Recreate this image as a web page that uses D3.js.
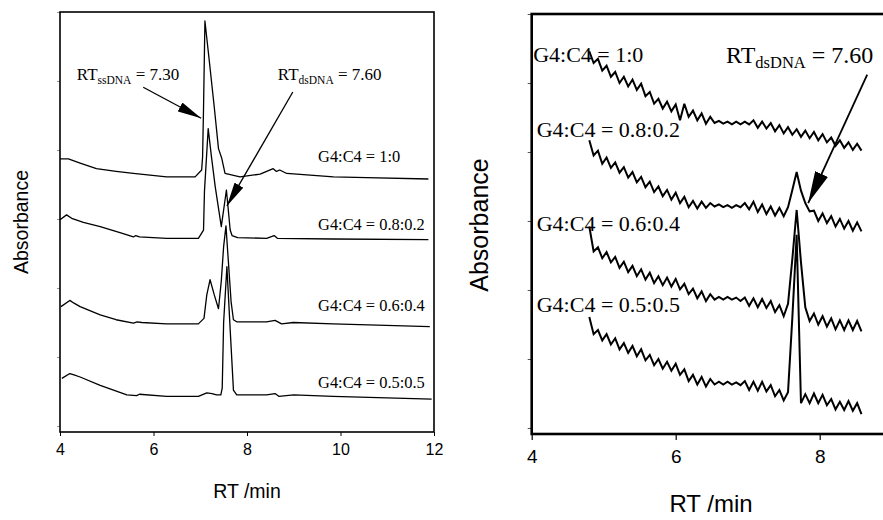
<!DOCTYPE html>
<html><head><meta charset="utf-8">
<script src="https://cdn.jsdelivr.net/npm/d3@7"></script>
<style>body{margin:0;background:#fff} text{white-space:pre}</style>
</head><body>
<svg id="c" width="883" height="520"></svg>
<script>
// ---------- data ----------
const ratioLabels = ["G4:C4 = 1:0", "G4:C4 = 0.8:0.2", "G4:C4 = 0.6:0.4", "G4:C4 = 0.5:0.5"];
const xTicksLeft = [4, 6, 8, 10, 12];
const xTicksRight = [4, 6, 8];
const yTicks = [0, 1, 2, 3, 4, 5, 6];

// left panel chromatograms [RT min, absorbance (offset units)]
const left1 = [[4.00,3.87],[4.18,3.87],[4.43,3.81],[4.78,3.73],[5.20,3.69],[5.57,3.66],[6.28,3.61],[6.89,3.61],[7.03,3.71],[7.05,3.90],[7.07,4.60],[7.10,5.87],[7.20,5.25],[7.30,4.62],[7.39,4.02],[7.46,3.88],[7.53,3.66],[7.85,3.61],[8.28,3.65],[8.56,3.73],[8.63,3.69],[8.70,3.71],[8.85,3.66],[9.85,3.61],[10.56,3.60],[11.88,3.58]];
const left2 = [[4.00,2.99],[4.14,3.06],[4.25,3.01],[4.50,2.95],[4.86,2.89],[5.30,2.80],[5.57,2.74],[5.62,2.76],[5.70,2.74],[6.28,2.72],[6.96,2.72],[7.07,2.84],[7.09,3.40],[7.17,4.31],[7.24,3.90],[7.32,3.47],[7.45,2.89],[7.56,3.42],[7.64,2.84],[7.68,2.76],[7.80,2.73],[8.42,2.72],[8.58,2.76],[8.65,2.72],[9.84,2.71],[11.88,2.70]];
const left3 = [[4.02,1.73],[4.21,1.82],[4.30,1.78],[4.43,1.73],[4.86,1.61],[5.20,1.54],[5.57,1.49],[5.65,1.51],[5.75,1.50],[6.28,1.48],[6.96,1.48],[7.08,1.56],[7.14,1.90],[7.21,2.12],[7.30,1.90],[7.39,1.70],[7.45,2.10],[7.50,2.60],[7.55,2.90],[7.60,2.40],[7.66,1.80],[7.71,1.54],[7.78,1.51],[8.42,1.51],[8.60,1.53],[8.74,1.48],[8.99,1.50],[9.84,1.48],[11.91,1.44]];
const left4 = [[4.04,0.69],[4.21,0.76],[4.30,0.74],[4.43,0.71],[4.86,0.59],[5.43,0.45],[5.64,0.44],[5.70,0.46],[6.28,0.43],[6.96,0.43],[7.14,0.48],[7.25,0.47],[7.35,0.45],[7.44,0.45],[7.47,0.55],[7.50,1.50],[7.57,2.31],[7.64,1.40],[7.71,0.52],[7.78,0.45],[8.42,0.45],[8.60,0.47],[8.68,0.43],[9.00,0.45],[9.84,0.43],[11.95,0.39]];

// right panel (zoom, 4.8 - 8.6 min)
const rightRT = [4.80,4.86,4.92,4.98,5.04,5.10,5.16,5.22,5.28,5.34,5.40,5.46,5.52,5.58,5.64,5.70,5.76,5.82,5.88,5.94,6.00,6.06,6.12,6.18,6.24,6.30,6.36,6.42,6.48,6.54,6.60,6.66,6.72,6.78,6.84,6.90,6.96,7.02,7.08,7.14,7.20,7.26,7.32,7.38,7.44,7.50,7.56,7.62,7.68,7.74,7.80,7.86,7.92,7.98,8.04,8.10,8.16,8.22,8.28,8.34,8.40,8.46,8.52,8.58];
const right1 = [5.46,5.29,5.35,5.18,5.25,5.09,5.16,5.00,5.09,4.95,5.05,4.90,4.99,4.81,4.87,4.70,4.77,4.63,4.73,4.59,4.69,4.46,4.70,4.51,4.60,4.46,4.56,4.41,4.51,4.42,4.45,4.41,4.44,4.40,4.44,4.40,4.44,4.40,4.46,4.35,4.44,4.34,4.42,4.30,4.39,4.27,4.36,4.25,4.33,4.22,4.31,4.20,4.29,4.17,4.26,4.14,4.21,4.09,4.17,4.06,4.14,4.03,4.12,4.02];
const right2 = [4.17,3.95,4.02,3.83,3.92,3.77,3.85,3.70,3.78,3.63,3.71,3.56,3.64,3.49,3.57,3.42,3.50,3.36,3.45,3.31,3.41,3.26,3.35,3.20,3.29,3.18,3.28,3.19,3.26,3.21,3.24,3.20,3.23,3.19,3.23,3.20,3.26,3.17,3.28,3.13,3.24,3.10,3.21,3.08,3.19,3.07,3.20,3.45,3.71,3.44,3.26,3.14,3.15,3.00,3.11,2.97,3.07,2.92,3.03,2.89,3.00,2.86,2.98,2.85];
const right3 = [2.92,2.56,2.62,2.46,2.55,2.40,2.48,2.32,2.41,2.26,2.35,2.20,2.30,2.15,2.25,2.10,2.20,2.07,2.18,2.05,2.16,2.01,2.09,1.94,2.02,1.88,1.98,1.84,1.94,1.86,1.90,1.86,1.90,1.86,1.89,1.84,1.89,1.77,1.88,1.75,1.87,1.74,1.84,1.68,1.78,1.62,1.80,2.45,3.16,2.40,1.75,1.55,1.66,1.50,1.62,1.47,1.59,1.43,1.56,1.42,1.56,1.42,1.55,1.40];
const right4 = [1.61,1.36,1.42,1.27,1.36,1.21,1.30,1.14,1.23,1.09,1.19,1.04,1.14,0.98,1.06,0.91,1.00,0.86,0.96,0.83,0.93,0.77,0.85,0.68,0.77,0.63,0.74,0.60,0.71,0.63,0.67,0.63,0.67,0.63,0.66,0.62,0.68,0.55,0.67,0.54,0.67,0.53,0.62,0.46,0.55,0.40,0.52,1.60,2.80,0.36,0.49,0.36,0.50,0.36,0.48,0.33,0.42,0.27,0.38,0.26,0.39,0.25,0.36,0.20];

// annotation anchors in data units
const leftLabelPos = [[9.52,3.83],[9.52,2.84],[9.52,1.66],[9.52,0.55]];
const rightLabelPos = [[4.02,5.30],[4.07,4.22],[4.07,2.85],[4.07,1.68]];

// ---------- drawing ----------
const svg = d3.select("#c");
const serif = "'Liberation Serif','Times New Roman',serif";
const sans = "'Liberation Sans',Arial,sans-serif";

svg.append("defs").html(
  '<marker id="ahS" viewBox="0 0 24 10" refX="24" refY="5" markerWidth="24" markerHeight="10" markerUnits="userSpaceOnUse" orient="auto"><path d="M0,0 L24,5 L0,10 Z" fill="#000"/></marker>' +
  '<marker id="ahL" viewBox="0 0 32 14" refX="32" refY="7" markerWidth="32" markerHeight="14" markerUnits="userSpaceOnUse" orient="auto"><path d="M0,0 L32,7 L0,14 Z" fill="#000"/></marker>'
);

function rtLabel(g, x, y, sub, val, size, subsize) {
  const t = g.append("text").attr("x", x).attr("y", y)
    .attr("font-family", serif).attr("font-size", size).attr("fill", "#000");
  t.append("tspan").text("RT");
  t.append("tspan").attr("font-size", subsize).attr("dy", size * 0.2).text(sub);
  t.append("tspan").attr("dy", -size * 0.2).text(" = " + val);
}

// ----- left panel -----
const xL = d3.scaleLinear().domain([4, 12]).range([60, 434]);
const yL = d3.scaleLinear().domain([-0.087, 6]).range([432, 12]);
const gL = svg.append("g");

gL.append("g").attr("transform", `translate(0,${yL(-0.087)})`)
  .call(d3.axisBottom(xL).tickValues(xTicksLeft).tickSize(4).tickPadding(8).tickFormat(d3.format("d")))
  .call(g => g.select(".domain").remove())
  .call(g => g.selectAll("line").attr("stroke", "#000").attr("stroke-width", 1))
  .call(g => g.selectAll("text").attr("font-family", sans).attr("font-size", 16).attr("fill", "#000"));
gL.append("g").attr("transform", `translate(${xL(4)},0)`)
  .call(d3.axisLeft(yL).tickValues(yTicks).tickSize(3).tickFormat(""))
  .call(g => g.select(".domain").remove())
  .call(g => g.selectAll("line").attr("stroke", "#777").attr("stroke-width", 0.8));

gL.append("rect").attr("x", xL(4)).attr("y", yL(6)).attr("width", xL(12) - xL(4)).attr("height", yL(-0.087) - yL(6))
  .attr("fill", "none").attr("stroke", "#000").attr("stroke-width", 1.6);

const lineL = d3.line().x(d => xL(d[0])).y(d => yL(d[1]));
[left1, left2, left3, left4].forEach(s => {
  gL.append("path").attr("d", lineL(s)).attr("fill", "none").attr("stroke", "#000").attr("stroke-width", 1.3).attr("stroke-linejoin", "round");
});

ratioLabels.forEach((t, i) => {
  gL.append("text").attr("x", xL(leftLabelPos[i][0])).attr("y", yL(leftLabelPos[i][1]))
    .attr("font-family", serif).attr("font-size", 16.4).attr("fill", "#000").text(t);
});
rtLabel(gL, xL(4.36), yL(5.01), "ssDNA", "7.30", 17, 11.5);
rtLabel(gL, xL(8.66), yL(5.01), "dsDNA", "7.60", 17, 11.5);

gL.append("line").attr("x1", xL(5.78)).attr("y1", yL(4.91)).attr("x2", xL(7.02)).attr("y2", yL(4.46))
  .attr("stroke", "#000").attr("stroke-width", 1.3).attr("marker-end", "url(#ahS)");
gL.append("line").attr("x1", xL(8.98)).attr("y1", yL(4.84)).attr("x2", xL(7.57)).attr("y2", yL(3.19))
  .attr("stroke", "#000").attr("stroke-width", 1.3).attr("marker-end", "url(#ahS)");

gL.append("text").attr("transform", `translate(28,${222}) rotate(-90)`).attr("text-anchor", "middle")
  .attr("font-family", sans).attr("font-size", 19.5).attr("fill", "#000").text("Absorbance");
gL.append("text").attr("x", (xL(4) + xL(12)) / 2).attr("y", 498).attr("text-anchor", "middle")
  .attr("font-family", sans).attr("font-size", 19.5).attr("fill", "#000").text("RT /min");

// ----- right panel -----
const xR = d3.scaleLinear().domain([4, 9]).range([531.7, 891.7]);
const yR = d3.scaleLinear().domain([-0.087, 6]).range([434, 14]);
const gR = svg.append("g");

gR.append("g").attr("transform", `translate(0,${yR(-0.087)})`)
  .call(d3.axisBottom(xR).tickValues(xTicksRight).tickSize(6).tickPadding(10).tickFormat(d3.format("d")))
  .call(g => g.select(".domain").remove())
  .call(g => g.selectAll("line").attr("stroke", "#000").attr("stroke-width", 1.2))
  .call(g => g.selectAll("text").attr("font-family", sans).attr("font-size", 19).attr("fill", "#000"));
gR.append("g").attr("transform", `translate(${xR(4)},0)`)
  .call(d3.axisLeft(yR).tickValues(yTicks).tickSize(4).tickFormat(""))
  .call(g => g.select(".domain").remove())
  .call(g => g.selectAll("line").attr("stroke", "#555").attr("stroke-width", 1));

gR.append("rect").attr("x", xR(4)).attr("y", yR(6)).attr("width", xR(9) - xR(4)).attr("height", yR(-0.087) - yR(6))
  .attr("fill", "none").attr("stroke", "#000").attr("stroke-width", 2.6);

const lineR = d3.line().x(d => xR(d[0])).y(d => yR(d[1]));
[right1, right2, right3, right4].forEach(s => {
  gR.append("path").attr("d", lineR(d3.zip(rightRT, s))).attr("fill", "none").attr("stroke", "#000")
    .attr("stroke-width", 2).attr("stroke-linejoin", "miter").attr("stroke-miterlimit", 3);
});

ratioLabels.forEach((t, i) => {
  gR.append("text").attr("x", xR(rightLabelPos[i][0])).attr("y", yR(rightLabelPos[i][1]))
    .attr("font-family", serif).attr("font-size", 22).attr("fill", "#000").text(t);
});
rtLabel(gR, xR(6.70), yR(5.29), "dsDNA", "7.60", 24, 16.5);
gR.append("line").attr("x1", xR(8.66)).attr("y1", yR(5.12)).attr("x2", xR(7.84)).attr("y2", yR(3.26))
  .attr("stroke", "#000").attr("stroke-width", 1.8).attr("marker-end", "url(#ahL)");

gR.append("text").attr("transform", `translate(488,${225}) rotate(-90)`).attr("text-anchor", "middle")
  .attr("font-family", sans).attr("font-size", 25).attr("fill", "#000").text("Absorbance");
gR.append("text").attr("x", 711).attr("y", 512).attr("text-anchor", "middle")
  .attr("font-family", sans).attr("font-size", 24).attr("fill", "#000").text("RT /min");
</script>
</body></html>
